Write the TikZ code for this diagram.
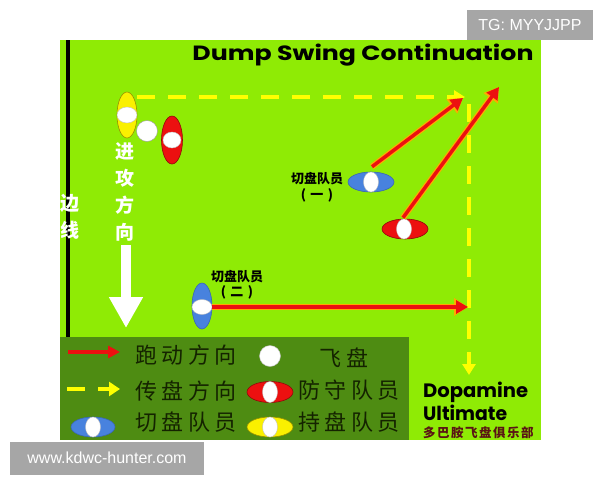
\documentclass[tikz,border=0pt]{standalone}
\usepackage{fontspec}
\usepackage{graphicx}
\setmainfont{Liberation Sans}
\newfontfamily\cjk{Noto Sans CJK SC}
\newfontfamily\titlef{Poppins}
\usetikzlibrary{shapes.geometric,arrows.meta}
\definecolor{field}{RGB}{143,235,5}
\definecolor{legendg}{RGB}{78,140,18}
\definecolor{pred}{RGB}{236,16,16}
\definecolor{pblue}{RGB}{72,130,222}
\definecolor{pyellow}{RGB}{250,240,0}
\definecolor{dyellow}{RGB}{255,255,0}
\definecolor{rorange}{RGB}{255,170,0}
\definecolor{wm}{RGB}{166,166,166}
\definecolor{ink}{RGB}{20,35,0}
\definecolor{clubred}{RGB}{90,20,20}
\newcommand\lsp{\hspace{4.5pt}}
\tikzset{
  pl/.style={ellipse, inner sep=0pt, line width=0.6pt},
  holderpl/.style={pl, fill=pyellow, draw=pyellow!60!black},
  defpl/.style={pl, fill=pred, draw=pred!60!black},
  cutpl/.style={pl, fill=pblue, draw=pblue!80!black},
  disc/.style={ellipse, inner sep=0pt, fill=white, draw=black!25, line width=0.4pt},
  runarr/.style={draw=pred, line width=3.5pt, -{Triangle[length=12pt,width=13pt]},
     preaction={draw=rorange, line width=6pt, -{Triangle[length=14pt,width=17pt]}}},
  passarr/.style={draw=dyellow, line width=4.5pt, dash pattern=on 18pt off 13pt, -{Triangle[length=11pt,width=13pt]}},
  vtext/.style={text=white, align=center, inner sep=0pt, font=\cjk\bfseries\fontsize{19}{27}\selectfont},
  lbl/.style={text=black, align=center, inner sep=0pt, font=\cjk\bfseries\fontsize{13}{16}\selectfont},
  legtext/.style={text=ink, inner sep=0pt, font=\cjk\fontsize{22}{22}\selectfont},
  wmark/.style={fill=wm, text=white, inner sep=0pt, font=\fontsize{16}{16}\selectfont}
}
\begin{document}
\begin{tikzpicture}[x=1pt,y=-1pt]
\useasboundingbox (0,0) rectangle (600,480);
\fill[white] (0,0) rectangle (600,480);
\fill[field] (60,40) rectangle (541,440);
% sideline
\coordinate (sl1) at (68,40);
\coordinate (sl2) at (68,337);
\draw[line width=4pt] (sl1) -- (sl2);
\fill[legendg] (60,337) rectangle (409,440);
% title
\node[anchor=base, inner sep=0pt] (title) at (363,60) {\resizebox{341pt}{16.5pt}{\titlef\bfseries Dump Swing Continuation}};
% sideline label
\node[vtext] (side) at (70,217) {边\\线};
% attack direction
\node[vtext] (att) at (125,192) {进\\攻\\方\\向};
\coordinate (wa1) at (126,245);
\coordinate (wa2) at (126,328);
\draw[white, line width=10pt, -{Triangle[length=31pt,width=32pt]}] (wa1) -- (wa2);
% pass path
\coordinate (p1) at (137,97);
\coordinate (p2) at (465,97);
\coordinate (p3) at (469,104);
\coordinate (p4) at (469,375);
\draw[passarr] (p1) -- (p2);
\draw[passarr] (p3) -- (p4);
% players
\node[holderpl, minimum width=20pt, minimum height=46pt] (hold) at (127,115) {};
\node[disc, minimum width=20pt, minimum height=16pt] (holdd) at (127,115) {};
\node[disc, circle, minimum size=21pt, draw=black!40] (fris) at (147,131) {};
\node[defpl, minimum width=21pt, minimum height=48pt] (def1) at (172,140) {};
\node[disc, minimum width=18pt, minimum height=16pt] (def1d) at (172,140) {};
\node[cutpl, minimum width=46pt, minimum height=20pt] (cut1) at (371,182) {};
\node[disc, minimum width=15pt, minimum height=20pt] (cut1d) at (371,182) {};
\node[defpl, minimum width=46pt, minimum height=20pt] (def2) at (405,229) {};
\node[disc, minimum width=15pt, minimum height=20pt] (def2d) at (404,229) {};
\node[cutpl, minimum width=20pt, minimum height=46pt] (cut2) at (202,306) {};
\node[disc, minimum width=20pt, minimum height=15pt] (cut2d) at (202,307) {};
% labels
\node[lbl] (l1a) at (317,179) {切盘队员};
\node[lbl] (l1b) at (317,195) {(\,\,一\,\,)};
\node[lbl] (l2a) at (237,277) {切盘队员};
\node[lbl] (l2b) at (237,292) {(\,\,二\,\,)};
% runs
\coordinate (t1) at (463,98);
\coordinate (t2) at (499,87);
\coordinate (t3) at (468,307);
\draw[runarr] (cut1.north) ++(1,-5) -- (t1);
\draw[runarr] (def2.north) ++(-2,-1) -- (t2);
\draw[runarr] (cut2d.east) -- (t3);
% legend
\coordinate (lr1) at (68,352);
\coordinate (lr2) at (120,352);
\draw[draw=pred, line width=4pt, -{Triangle[length=12pt,width=12pt]}] (lr1) -- (lr2);
\coordinate (ly1) at (67,389);
\coordinate (ly2) at (85,389);
\coordinate (ly3) at (98,389);
\coordinate (ly4) at (120,389);
\draw[dyellow, line width=4.5pt] (ly1) -- (ly2);
\draw[dyellow, line width=4.5pt, -{Triangle[length=11pt,width=14pt]}] (ly3) -- (ly4);
\node[cutpl, minimum width=44pt, minimum height=20pt] (lcut) at (93,427) {};
\node[disc, minimum width=15pt, minimum height=20pt] (lcutd) at (93,427) {};
\node[legtext] (t_run) at (186,355) {跑\lsp 动\lsp 方\lsp 向};
\node[legtext] (t_pass) at (186,391) {传\lsp 盘\lsp 方\lsp 向};
\node[legtext] (t_cut) at (186,422) {切\lsp 盘\lsp 队\lsp 员};
\node[disc, circle, minimum size=21pt] (lfris) at (270,356) {};
\node[defpl, minimum width=46pt, minimum height=21pt] (ldef) at (270,392) {};
\node[disc, minimum width=15pt, minimum height=21pt] (ldefd) at (270,392) {};
\node[holderpl, minimum width=46pt, minimum height=20pt] (lhold) at (270,427) {};
\node[disc, minimum width=15pt, minimum height=20pt] (lholdd) at (270,427) {};
\node[legtext] (t_fris) at (344,358) {飞\lsp 盘};
\node[legtext] (t_def) at (349,390) {防\lsp 守\lsp 队\lsp 员};
\node[legtext] (t_hold) at (349,422) {持\lsp 盘\lsp 队\lsp 员};
% club
\node[anchor=base west, inner sep=0pt] (dop) at (423,397) {\resizebox{105pt}{15.5pt}{\titlef\bfseries Dopamine}};
\node[anchor=base west, inner sep=0pt] (ult) at (423,420) {\resizebox{84pt}{15.5pt}{\titlef\bfseries Ultimate}};
\node[anchor=west, inner sep=0pt, text=clubred, font=\cjk\bfseries\fontsize{12.5}{13}\selectfont] (club) at (423,433) {多\kern1.5pt 巴\kern1.5pt 胺\kern1.5pt 飞\kern1.5pt 盘\kern1.5pt 俱\kern1.5pt 乐\kern1.5pt 部};
% watermarks
\node[wmark, minimum width=126pt, minimum height=30pt] (tg) at (530,25) {TG: MYYJJPP};
\node[wmark, minimum width=194pt, minimum height=33pt] (site) at (107,458) {www.kdwc-hunter.com};
\end{tikzpicture}
\end{document}
